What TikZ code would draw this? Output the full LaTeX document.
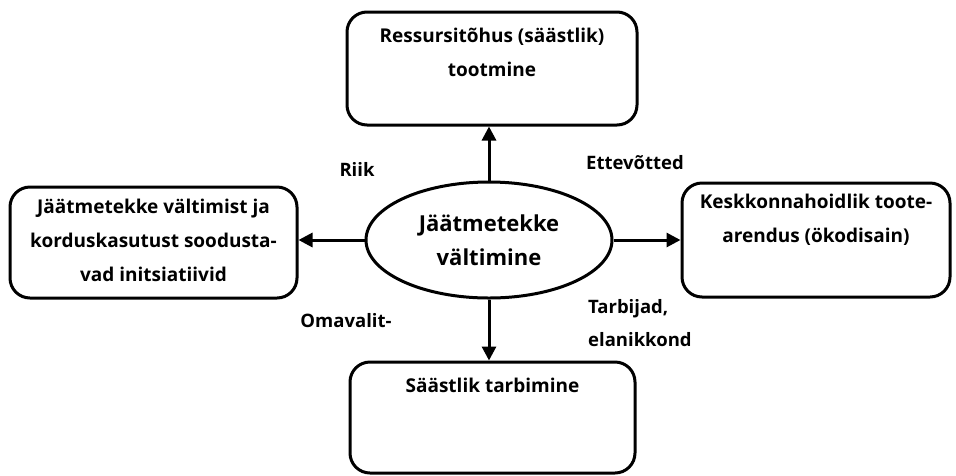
\documentclass[tikz,border=0pt]{standalone}
\usepackage{fontspec}
\setmainfont{Open Sans}
\usetikzlibrary{arrows.meta,shapes.geometric}
\newcommand\boxtxt[4]{\parbox[c][#2][t]{#1}{\centering\rule{0pt}{#3}#4}}
\begin{document}
\begin{tikzpicture}[x=1pt,y=-1pt,
  box/.style={draw, line width=3pt, rounded corners=20pt, inner sep=0pt,
    font=\bfseries\fontsize{19}{34}\selectfont},
  ell/.style={draw, ellipse, line width=3pt, minimum width=246pt, minimum height=116pt,
    inner sep=0pt, align=center, font=\bfseries\fontsize{22}{34}\selectfont},
  lbl/.style={inner sep=0pt, align=left, font=\bfseries\fontsize{18.5}{33}\selectfont},
  arr/.style={line width=3pt, -{Triangle[length=14pt,width=14pt]}}]
\useasboundingbox (0,0) rectangle (956,475);

\node[box] (top) at (492,68.5) {\boxtxt{290pt}{113pt}{30pt}{Ressursitõhus (säästlik)\\tootmine}};
\node[box] (left) at (153.5,242.5) {\boxtxt{287pt}{111pt}{26pt}{Jäätmetekke vältimist ja\\korduskasutust soodusta-\\vad initsiatiivid}};
\node[box] (right) at (816,240) {\boxtxt{268pt}{114pt}{25pt}{Keskkonnahoidlik toote-\\arendus (ökodisain)}};
\node[box] (bot) at (492.5,417.5) {\boxtxt{285pt}{111pt}{30pt}{Säästlik tarbimine}};

\node[ell] (ell) at (489,240) {Jäätmetekke\\vältimine};

\draw[arr] (ell.north) -- (ell.north |- top.south);
\draw[arr] (ell.south) -- (ell.south |- bot.north);
\draw[arr] (ell.west) -- (ell.west -| left.east);
\draw[arr] (ell.east) -- (ell.east -| right.west);

\node[lbl] (riik) at (357,169) {Riik};
\node[lbl] (ette) at (635,163) {Ettevõtted};
\node[lbl] (omav) at (346,321) {Omavalit-};
\node[lbl, anchor=west] (tarb) at (588,323.5) {Tarbijad,\\elanikkond};
\end{tikzpicture}
\end{document}
